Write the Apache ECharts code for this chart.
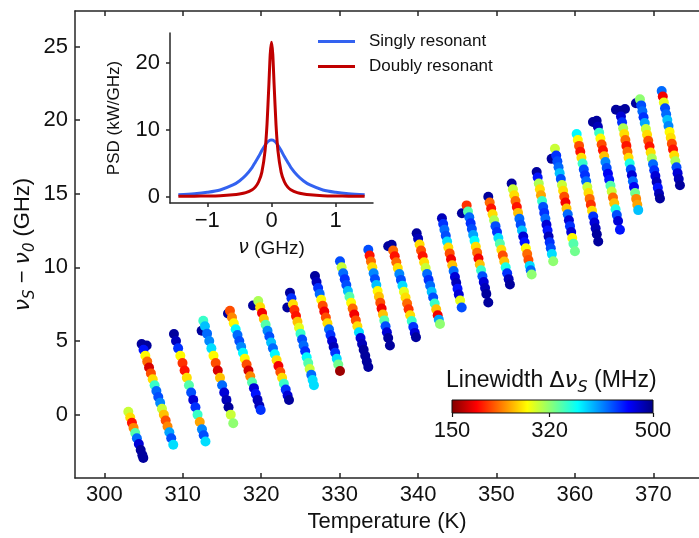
<!DOCTYPE html>
<html><head><meta charset="utf-8">
<script src="https://cdn.jsdelivr.net/npm/echarts@6/dist/echarts.min.js"></script>
<style>html,body{margin:0;padding:0;background:#fff}#c{width:699px;height:538px}</style>
</head><body><div id="c"></div>
<script>
// ---- scatter stripes: [temperature K, nu_S - nu_0 GHz, linewidth MHz]
const stripe01 = [[303.06,0.20,300],[303.30,-0.20,270],[303.52,-0.55,200],[303.73,-0.90,240],[303.94,-1.25,340],[304.15,-1.60,420],[304.40,-2.00,470],[304.64,-2.40,490],[304.85,-2.75,490],[304.97,-2.94,490]];
const stripe02 = [[305.40,4.69,490],[304.76,4.80,490],[305.00,4.40,450],[305.23,4.00,280],[305.47,3.60,230],[305.70,3.20,180],[305.94,2.80,220],[306.17,2.40,270],[306.41,2.00,350],[306.64,1.60,420],[306.88,1.20,430],[307.12,0.80,410],[307.35,0.40,300],[307.59,0.00,260],[307.82,-0.40,220],[308.06,-0.80,240],[308.29,-1.20,400],[308.53,-1.60,430],[308.79,-2.04,380]];
const stripe03 = [[308.88,5.47,490],[309.14,5.00,480],[309.41,4.50,440],[309.69,4.00,280],[309.97,3.50,210],[310.24,3.00,200],[310.52,2.50,270],[310.79,2.00,340],[311.07,1.50,430],[311.34,1.00,470],[311.62,0.50,440],[311.89,0.00,350],[312.17,-0.50,250],[312.45,-1.00,410],[312.67,-1.40,430],[312.90,-1.82,380]];
const stripe04 = [[312.41,5.70,490],[312.62,6.38,350],[312.83,6.00,390],[313.10,5.50,420],[313.38,5.00,410],[313.65,4.50,380],[313.92,4.00,280],[314.20,3.50,220],[314.47,3.00,180],[314.75,2.50,260],[315.02,2.00,420],[315.29,1.50,470],[315.57,1.00,480],[315.84,0.50,490],[316.12,0.00,300],[316.44,-0.59,320]];
const stripe05 = [[315.77,6.87,490],[316.02,7.05,220],[316.28,6.60,240],[316.51,6.20,280],[316.75,5.80,370],[316.98,5.40,420],[317.21,5.00,430],[317.45,4.60,410],[317.68,4.20,370],[317.91,3.80,280],[318.14,3.40,220],[318.38,3.00,180],[318.61,2.60,240],[318.84,2.20,340],[319.08,1.80,470],[319.31,1.40,450],[319.54,1.00,480],[319.77,0.60,480],[319.94,0.32,440]];
const stripe06 = [[318.96,7.41,490],[319.63,7.72,310],[319.87,7.30,270],[320.11,6.90,190],[320.34,6.50,260],[320.57,6.10,340],[320.81,5.70,410],[321.04,5.30,430],[321.27,4.90,390],[321.50,4.50,420],[321.74,4.10,370],[321.97,3.70,270],[322.20,3.30,190],[322.44,2.90,220],[322.67,2.50,270],[322.90,2.10,350],[323.13,1.70,440],[323.37,1.30,470],[323.55,0.99,490]];
const stripe07 = [[323.33,7.27,490],[323.67,8.28,490],[323.86,7.90,440],[324.05,7.50,270],[324.24,7.10,210],[324.44,6.70,200],[324.63,6.30,260],[324.83,5.90,290],[325.02,5.50,350],[325.22,5.10,430],[325.41,4.70,420],[325.61,4.30,440],[325.80,3.90,370],[326.00,3.50,340],[326.19,3.10,300],[326.39,2.70,420],[326.56,2.35,380],[326.73,2.00,380]];
const stripe08 = [[326.86,9.41,490],[327.06,9.00,480],[327.26,8.60,440],[327.46,8.20,420],[327.66,7.80,280],[327.85,7.40,220],[328.05,7.00,190],[328.25,6.60,220],[328.45,6.20,270],[328.65,5.80,420],[328.84,5.40,440],[329.04,5.00,470],[329.24,4.60,480],[329.44,4.20,440],[329.64,3.80,380],[329.83,3.40,330],[330.05,2.96,160]];
const stripe09 = [[330.05,10.42,430],[330.26,10.00,300],[330.46,9.60,420],[330.66,9.20,440],[330.86,8.80,430],[331.06,8.40,390],[331.26,8.00,340],[331.47,7.60,280],[331.67,7.20,230],[331.87,6.80,190],[332.07,6.40,220],[332.27,6.00,270],[332.47,5.60,380],[332.67,5.20,470],[332.87,4.80,480],[333.07,4.40,490],[333.27,4.00,490],[333.47,3.60,490],[333.66,3.23,490]];
const stripe10 = [[333.66,11.20,430],[333.83,10.80,200],[334.00,10.40,230],[334.17,10.00,270],[334.34,9.60,410],[334.51,9.20,430],[334.68,8.80,390],[334.85,8.40,280],[335.02,8.00,260],[335.19,7.60,220],[335.36,7.20,190],[335.53,6.80,260],[335.70,6.40,340],[335.86,6.00,430],[336.03,5.60,470],[336.20,5.20,490],[336.42,4.69,490]];
const stripe11 = [[336.20,11.43,490],[336.64,11.54,490],[336.83,11.15,230],[337.03,10.75,200],[337.23,10.35,230],[337.42,9.95,270],[337.62,9.55,410],[337.82,9.15,430],[338.02,8.75,380],[338.21,8.35,290],[338.41,7.95,270],[338.61,7.55,230],[338.80,7.15,210],[339.00,6.75,270],[339.20,6.35,350],[339.40,5.95,440],[339.59,5.55,470],[339.74,5.25,490]];
const stripe12 = [[339.83,12.32,490],[340.01,11.95,480],[340.20,11.55,270],[340.39,11.15,220],[340.59,10.75,200],[340.78,10.35,270],[340.97,9.95,300],[341.16,9.55,420],[341.35,9.15,440],[341.55,8.75,420],[341.74,8.35,390],[341.93,7.95,430],[342.12,7.55,350],[342.32,7.15,260],[342.51,6.75,190],[342.65,6.45,400],[342.80,6.15,320]];
const stripe13 = [[343.05,13.33,480],[343.21,12.95,440],[343.37,12.55,420],[343.54,12.15,430],[343.71,11.75,380],[343.87,11.35,270],[344.04,10.95,220],[344.21,10.55,190],[344.37,10.15,260],[344.54,9.75,420],[344.71,9.35,470],[344.87,8.95,480],[345.04,8.55,450],[345.20,8.15,470],[345.37,7.75,290],[345.57,7.27,430]];
const stripe14 = [[345.60,13.67,490],[346.20,14.21,210],[346.37,13.80,340],[346.54,13.40,420],[346.71,13.00,440],[346.87,12.60,430],[347.04,12.20,400],[347.21,11.80,370],[347.37,11.40,270],[347.54,11.00,230],[347.71,10.60,190],[347.88,10.20,260],[348.04,9.80,350],[348.21,9.40,430],[348.38,9.00,470],[348.55,8.60,480],[348.71,8.20,490],[348.96,7.61,490]];
const stripe15 = [[348.96,14.79,490],[349.14,14.40,230],[349.33,14.00,200],[349.51,13.60,270],[349.70,13.20,310],[349.88,12.80,430],[350.07,12.40,440],[350.25,12.00,380],[350.44,11.60,340],[350.63,11.20,270],[350.81,10.80,220],[351.00,10.40,260],[351.18,10.00,360],[351.37,9.60,440],[351.56,9.20,480],[351.72,8.84,490]];
const stripe16 = [[351.94,15.69,490],[352.10,15.30,300],[352.27,14.90,270],[352.43,14.50,230],[352.60,14.10,200],[352.76,13.70,260],[352.93,13.30,420],[353.09,12.90,430],[353.26,12.50,390],[353.42,12.10,470],[353.59,11.70,450],[353.75,11.30,280],[353.92,10.90,230],[354.08,10.50,220],[354.25,10.10,380],[354.37,9.80,420],[354.49,9.52,320]];
const stripe17 = [[355.13,16.48,490],[355.26,16.10,450],[355.40,15.70,310],[355.54,15.30,270],[355.68,14.90,250],[355.82,14.50,350],[355.96,14.10,430],[356.10,13.70,440],[356.24,13.30,420],[356.38,12.90,470],[356.52,12.50,450],[356.65,12.10,480],[356.79,11.70,440],[356.93,11.30,430],[357.07,10.90,380],[357.24,10.42,320]];
const stripe18 = [[357.04,17.37,490],[357.46,18.05,300],[357.62,17.60,440],[357.77,17.20,430],[357.92,16.80,420],[358.06,16.40,390],[358.21,16.00,430],[358.36,15.60,300],[358.50,15.20,270],[358.65,14.80,220],[358.80,14.40,190],[358.94,14.00,260],[359.09,13.60,420],[359.24,13.20,470],[359.38,12.80,440],[359.53,12.40,470],[359.67,12.00,280],[359.82,11.60,340],[360.01,11.09,330]];
const stripe19 = [[360.23,19.06,370],[360.38,18.65,280],[360.54,18.25,220],[360.69,17.85,200],[360.84,17.45,270],[360.99,17.05,350],[361.14,16.65,430],[361.29,16.25,440],[361.44,15.85,420],[361.59,15.45,300],[361.74,15.05,270],[361.89,14.65,230],[362.04,14.25,210],[362.19,13.85,270],[362.34,13.45,440],[362.50,13.05,470],[362.65,12.65,480],[362.80,12.25,490],[362.98,11.76,490]];
const stripe20 = [[362.31,19.87,490],[362.78,19.95,490],[362.94,19.55,480],[363.10,19.15,350],[363.26,18.75,280],[363.42,18.35,220],[363.58,17.95,200],[363.74,17.55,260],[363.90,17.15,410],[364.06,16.75,430],[364.22,16.35,460],[364.38,15.95,450],[364.54,15.55,340],[364.70,15.15,300],[364.86,14.75,230],[365.02,14.35,260],[365.19,13.95,360],[365.35,13.55,430],[365.51,13.15,470],[365.75,12.55,450]];
const stripe21 = [[365.24,20.70,490],[366.39,20.75,490],[365.75,20.63,490],[365.88,20.25,470],[366.02,19.85,440],[366.16,19.45,310],[366.30,19.05,270],[366.44,18.65,230],[366.57,18.25,200],[366.71,17.85,230],[366.85,17.45,270],[366.99,17.05,360],[367.13,16.65,430],[367.27,16.25,470],[367.40,15.85,420],[367.54,15.45,460],[367.68,15.05,330],[367.82,14.65,240],[367.96,14.25,250],[368.08,13.89,390]];
const stripe22 = [[367.79,21.14,490],[368.30,21.41,320],[368.46,21.00,430],[368.61,20.60,420],[368.76,20.20,440],[368.91,19.80,400],[369.06,19.40,300],[369.21,19.00,270],[369.36,18.60,220],[369.52,18.20,200],[369.67,17.80,270],[369.82,17.40,310],[369.97,17.00,420],[370.12,16.60,440],[370.27,16.20,470],[370.43,15.80,480],[370.58,15.40,450],[370.73,15.00,480],[370.85,14.68,490]];
const stripe23 = [[371.07,21.97,420],[371.21,21.60,190],[371.35,21.20,290],[371.50,20.80,430],[371.64,20.40,420],[371.79,20.00,390],[371.94,19.60,410],[372.08,19.20,280],[372.23,18.80,270],[372.37,18.40,220],[372.52,18.00,200],[372.67,17.60,270],[372.81,17.20,310],[372.96,16.80,430],[373.10,16.40,470],[373.25,16.00,480],[373.40,15.58,490]];

// ---- inset spectra
const nuPts = [-1.45,-1.2,-1,-0.8,-0.6,-0.5,-0.4,-0.3,-0.25,-0.2,-0.15,-0.1,-0.07,-0.04,-0.02,0,0.02,0.04,0.07,0.1,0.15,0.2,0.25,0.3,0.4,0.5,0.6,0.8,1,1.2,1.45];
const psdSingly = [0.3,0.45,0.65,1.0,1.75,2.35,3.2,4.4,5.2,6.0,6.9,7.7,8.1,8.35,8.45,8.5,8.45,8.35,8.1,7.7,6.9,6.0,5.2,4.4,3.2,2.35,1.75,1.0,0.65,0.45,0.3];
const psdDoubly = [0.05,0.07,0.1,0.15,0.27,0.39,0.6,1.04,1.47,2.23,3.68,6.9,10.8,16.9,21.3,23.1,21.3,16.9,10.8,6.9,3.68,2.23,1.47,1.04,0.6,0.39,0.27,0.15,0.1,0.07,0.05];
const seriesNames = ['Singly resonant','Doubly resonant'];

// ---- ticks
const tempTicks = [300,310,320,330,340,350,360,370];
const detuneTicks = [0,5,10,15,20,25];
const insetXTicks = [-1,0,1];
const insetYTicks = [0,10,20];
const lwTicks = [150,320,500];

const FONT = 'Liberation Sans, Arial, sans-serif';
const MATH = 'DejaVu Sans';
const TXT = '#111';
const AX = '#262626';
const jet = ['#800000','#ff0000','#ff8000','#ffff00','#80ff80','#00ffff','#0080ff','#0000ff','#000080'];

const stripes = [stripe01,stripe02,stripe03,stripe04,stripe05,stripe06,stripe07,stripe08,stripe09,stripe10,stripe11,stripe12,stripe13,stripe14,stripe15,stripe16,stripe17,stripe18,stripe19,stripe20,stripe21,stripe22,stripe23];
const allPts = [].concat(...stripes);
const minus = v => String(v).replace('-', '\u2212');

const subRich = (base) => ({
  m: {fontFamily: FONT, fontSize: base, fontWeight: 'normal', lineHeight: 30, verticalAlign: 'middle', color: TXT},
  v: {fontFamily: MATH, fontStyle: 'italic', fontWeight: 'normal', fontSize: base, lineHeight: 30, verticalAlign: 'middle', color: TXT},
  d: {fontFamily: MATH, fontWeight: 'normal', fontSize: base - 1, lineHeight: 30, verticalAlign: 'middle', color: TXT},
  s: {fontFamily: MATH, fontStyle: 'italic', fontWeight: 'normal', fontSize: Math.round(base * 0.7), lineHeight: 17, verticalAlign: 'bottom', color: TXT}
});
const axLine = {onZero: false, lineStyle: {color: AX, width: 1.5}};

const chart = echarts.init(document.getElementById('c'), null, {renderer: 'canvas'});
chart.setOption({
  animation: false,
  backgroundColor: '#fff',
  title: {
    text: '{m|Linewidth }{d|Δ}{v|ν}{s|S}{m| (MHz)}',
    left: 446, top: 366, padding: 0,
    textStyle: {fontWeight: 'normal', rich: subRich(23)}
  },
  legend: {
    data: seriesNames, orient: 'vertical', left: 318, top: 33, padding: 0,
    icon: 'rect', itemWidth: 37, itemHeight: 3, itemGap: 8,
    textStyle: {fontFamily: FONT, fontSize: 17, color: TXT, padding: [0,0,0,9]}
  },
  grid: [
    {left: 75, top: 11, right: 0, bottom: 56},
    {left: 170, top: 33, width: 203, height: 170},
    {left: 452, top: 400, width: 201, height: 13, show: true, borderColor: '#111', borderWidth: 1,
     backgroundColor: new echarts.graphic.LinearGradient(0, 0, 1, 0, jet.map((c, i) => ({offset: i / (jet.length - 1), color: c})))}
  ],
  xAxis: [
    {gridIndex: 0, type: 'value', min: 296.26, max: 375.83, axisLine: axLine,
     axisTick: {inside: true, length: 5, customValues: tempTicks, lineStyle: {color: AX, width: 1.5}},
     axisLabel: {customValues: tempTicks, fontFamily: FONT, fontSize: 22, color: TXT, margin: 6},
     splitLine: {show: false},
     name: 'Temperature (K)', nameLocation: 'middle', nameGap: 28,
     nameTextStyle: {fontFamily: FONT, fontSize: 22, color: TXT}},
    {gridIndex: 0, type: 'value', position: 'top', min: 296.26, max: 375.83, axisLine: axLine,
     axisTick: {inside: true, length: 5, customValues: tempTicks, lineStyle: {color: AX, width: 1.5}},
     axisLabel: {show: false}, splitLine: {show: false}},
    {gridIndex: 1, type: 'value', min: -1.58, max: 1.58, axisLine: axLine,
     axisTick: {inside: false, length: 4, customValues: insetXTicks, lineStyle: {color: AX, width: 1.5}},
     axisLabel: {customValues: insetXTicks, fontFamily: FONT, fontSize: 22, color: TXT, margin: 7, formatter: minus},
     splitLine: {show: false},
     name: '{v|ν}{m| (GHz)}', nameLocation: 'middle', nameGap: 36,
     nameTextStyle: {rich: {
       m: {fontFamily: FONT, fontSize: 19, color: TXT},
       v: {fontFamily: MATH, fontStyle: 'italic', fontSize: 19, color: TXT}}}},
    {gridIndex: 2, type: 'value', min: 150, max: 500,
     axisLine: {show: false, onZero: false},
     axisTick: {inside: false, length: 4, customValues: lwTicks, lineStyle: {color: '#111', width: 1.2}},
     axisLabel: {customValues: lwTicks, fontFamily: FONT, fontSize: 22, color: TXT, margin: 7},
     splitLine: {show: false}}
  ],
  yAxis: [
    {gridIndex: 0, type: 'value', min: -4.31, max: 27.41, axisLine: axLine,
     axisTick: {inside: true, length: 5, customValues: detuneTicks, lineStyle: {color: AX, width: 1.5}},
     axisLabel: {customValues: detuneTicks, fontFamily: FONT, fontSize: 22, color: TXT, margin: 7},
     splitLine: {show: false},
     name: '{v|ν}{s|S}{m| − }{v|ν}{s|0}{m| (GHz)}', nameLocation: 'middle', nameGap: 37,
     nameMoveOverlap: false,
     nameTextStyle: {rich: subRich(22)}},
    {gridIndex: 1, type: 'value', min: -0.95, max: 24.5, axisLine: axLine,
     axisTick: {inside: false, length: 4, customValues: insetYTicks, lineStyle: {color: AX, width: 1.5}},
     axisLabel: {customValues: insetYTicks, fontFamily: FONT, fontSize: 22, color: TXT, margin: 10},
     splitLine: {show: false},
     name: 'PSD (kW/GHz)', nameLocation: 'middle', nameGap: 47,
     nameTextStyle: {fontFamily: FONT, fontSize: 17, color: TXT}},
    {gridIndex: 2, type: 'value', min: 0, max: 1, show: false}
  ],
  visualMap: {
    type: 'continuous', show: false, min: 150, max: 500, dimension: 2, seriesIndex: 0,
    inRange: {color: jet}
  },
  series: [
    {type: 'scatter', xAxisIndex: 0, yAxisIndex: 0, data: allPts, symbolSize: 10,
     itemStyle: {opacity: 1}, silent: true},
    {type: 'line', name: seriesNames[0], xAxisIndex: 2, yAxisIndex: 1,
     data: nuPts.map((x, i) => [x, psdSingly[i]]), showSymbol: false, smooth: 0.3,
     itemStyle: {color: '#3362f0'}, lineStyle: {color: '#3362f0', width: 3}},
    {type: 'line', name: seriesNames[1], xAxisIndex: 2, yAxisIndex: 1,
     data: nuPts.map((x, i) => [x, psdDoubly[i]]), showSymbol: false, smooth: 0.2,
     itemStyle: {color: '#c00000'}, lineStyle: {color: '#c00000', width: 3}}
  ]
});
</script></body></html>
